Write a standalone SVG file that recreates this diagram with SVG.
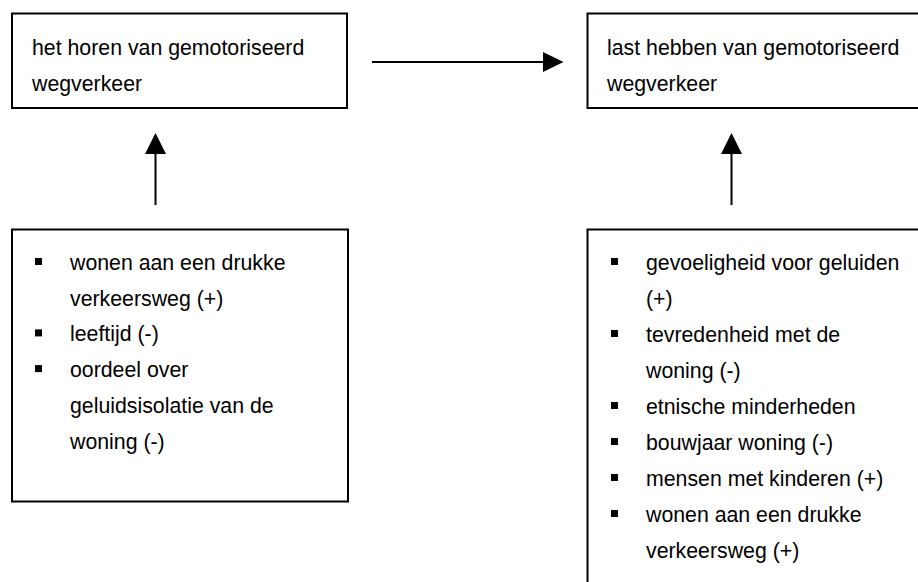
<svg xmlns="http://www.w3.org/2000/svg" width="918" height="582" viewBox="0 0 918 582">
  <style>
    .box { fill: #ffffff; stroke: #000000; stroke-width: 2; }
    .txt { font-family: "Liberation Sans", Arial, sans-serif; font-size: 21.3px; fill: #000000; }
    .wire { stroke: #000000; stroke-width: 2; fill: none; }
    .head { fill: #000000; }
    .bullet { fill: #000000; }
  </style>
  <rect x="0" y="0" width="918" height="582" fill="#ffffff"/>

  <g id="connectors">
    <line class="wire" x1="372" y1="62" x2="545" y2="62"/>
    <polygon class="head" points="543,52 563.5,62 543,72"/>
    <line class="wire" x1="155.5" y1="205" x2="155.5" y2="152"/>
    <polygon class="head" points="145,154 155.5,133 166,154"/>
    <line class="wire" x1="731.5" y1="205" x2="731.5" y2="152"/>
    <polygon class="head" points="721,154 731.5,133 742,154"/>
  </g>

  <g id="node-horen">
    <rect class="box" x="12" y="13.5" width="335" height="94.5"/>
    <text class="txt" x="32" y="55">het horen van gemotoriseerd</text>
    <text class="txt" x="32" y="90.5">wegverkeer</text>
  </g>

  <g id="node-last">
    <rect class="box" x="587.5" y="13.5" width="345" height="94.5"/>
    <text class="txt" x="607" y="55">last hebben van gemotoriseerd</text>
    <text class="txt" x="607" y="90.5">wegverkeer</text>
  </g>

  <g id="node-factoren-horen">
    <rect class="box" x="12" y="229.5" width="336" height="272"/>
    <rect class="bullet" x="35" y="258" width="7" height="7"/>
    <text class="txt" x="70" y="270">wonen aan een drukke</text>
    <text class="txt" x="70" y="305.7">verkeersweg (+)</text>
    <rect class="bullet" x="35" y="329.4" width="7" height="7"/>
    <text class="txt" x="70" y="341.4">leeftijd (-)</text>
    <rect class="bullet" x="35" y="365.1" width="7" height="7"/>
    <text class="txt" x="70" y="377.1">oordeel over</text>
    <text class="txt" x="70" y="412.8">geluidsisolatie van de</text>
    <text class="txt" x="70" y="448.5">woning (-)</text>
  </g>

  <g id="node-factoren-last">
    <rect class="box" x="587.5" y="229.5" width="345" height="370"/>
    <rect class="bullet" x="611" y="258" width="7" height="7"/>
    <text class="txt" x="646" y="270">gevoeligheid voor geluiden</text>
    <text class="txt" x="646" y="306">(+)</text>
    <rect class="bullet" x="611" y="330" width="7" height="7"/>
    <text class="txt" x="646" y="342">tevredenheid met de</text>
    <text class="txt" x="646" y="378">woning (-)</text>
    <rect class="bullet" x="611" y="402" width="7" height="7"/>
    <text class="txt" x="646" y="414">etnische minderheden</text>
    <rect class="bullet" x="611" y="438" width="7" height="7"/>
    <text class="txt" x="646" y="450">bouwjaar woning (-)</text>
    <rect class="bullet" x="611" y="474" width="7" height="7"/>
    <text class="txt" x="646" y="486">mensen met kinderen (+)</text>
    <rect class="bullet" x="611" y="510" width="7" height="7"/>
    <text class="txt" x="646" y="522">wonen aan een drukke</text>
    <text class="txt" x="646" y="558">verkeersweg (+)</text>
  </g>
</svg>
